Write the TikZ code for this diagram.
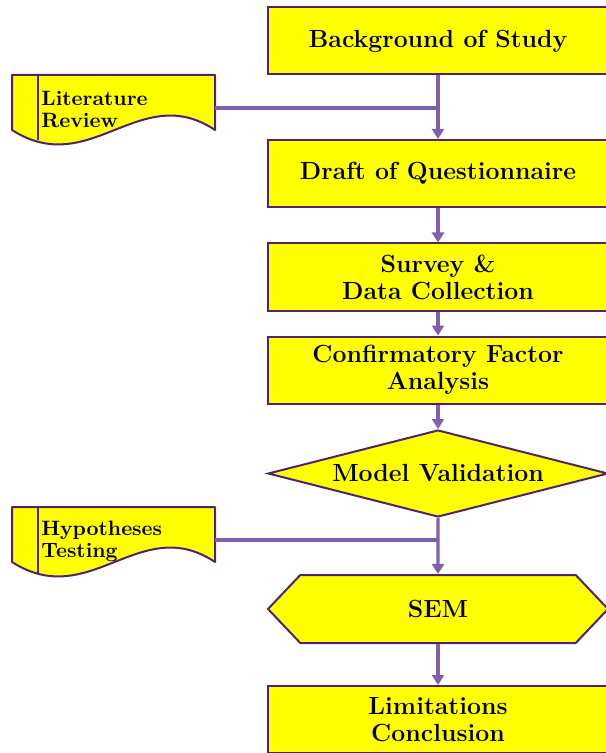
\documentclass[tikz,border=0pt]{standalone}
\usepackage{tikz}
\usetikzlibrary{positioning,arrows.meta,shapes.geometric,shapes.symbols}
\definecolor{boxfill}{RGB}{255,255,0}
\definecolor{boxline}{RGB}{78,36,112}
\definecolor{connline}{RGB}{128,96,172}
\tikzset{
  stage/.style={rectangle,draw=boxline,fill=boxfill,line width=1pt,minimum width=170pt,minimum height=33.5pt,
    align=center,font=\fontsize{12.4}{13.5}\selectfont\bfseries,inner sep=2pt},
  check/.style={stage,diamond,aspect=3.9,minimum height=43.5pt,inner sep=0pt},
  hexa/.style={stage,signal,signal to=west and east,signal pointer angle=93,minimum height=34pt},
  docbox/.style={draw=boxline,fill=boxfill,line width=1pt,line join=round},
  doctext/.style={align=left,inner sep=0pt,font=\fontsize{10.4}{11}\selectfont\bfseries},
  conn/.style={draw=connline,line width=1.6pt},
  flow/.style={conn,-{Triangle[length=5pt,width=6pt]}}
}
% document symbol: name, left x, top y, text
\newcommand{\docshape}[4]{%
  \begin{scope}[shift={(#2,#3)}]
    \draw[docbox] (0,0) -- (203,0) -- (203,55) .. controls (128,5) and (78,105) .. (0,55) -- cycle;
    \draw[docbox] (26,0) -- (26,65.5);
    \node[doctext,anchor=west] (#1) at (29,34) {#4};
    \coordinate (#1-out) at (203,33);
  \end{scope}}

\begin{document}
\begin{tikzpicture}[x=0.5pt,y=-0.5pt]
  \useasboundingbox (0,0) rectangle (605,753);
  % main column
  \node[stage] (bg) at (438,41) {Background of Study};
  \node[stage] (draft) at (438,173.5) {Draft of Questionnaire};
  \node[stage] (survey) at (438,277) {Survey \&\\Data Collection};
  \node[stage] (cfa) at (438,370) {Confirmatory Factor\\Analysis};
  \node[check] (valid) at (438,473.5) {Model Validation};
  \node[hexa] (sem) at (438,609) {SEM};
  \node[stage] (concl) at (438,719.5) {Limitations\\Conclusion};
  % side documents
  \docshape{lit}{12}{75}{Literature\\Review}
  \docshape{hyp}{12}{507}{Hypotheses\\Testing}
  % connectors
  \draw[flow] (bg) -- (draft);
  \draw[flow] (draft) -- (survey);
  \draw[flow] (survey) -- (cfa);
  \draw[flow] (cfa) -- (valid);
  \draw[flow] (valid) -- (sem);
  \draw[flow] (sem) -- (concl);
  \draw[conn] (lit-out) -- (lit-out -| bg.south);
  \draw[conn] (hyp-out) -- (hyp-out -| valid.south);
\end{tikzpicture}
\end{document}
